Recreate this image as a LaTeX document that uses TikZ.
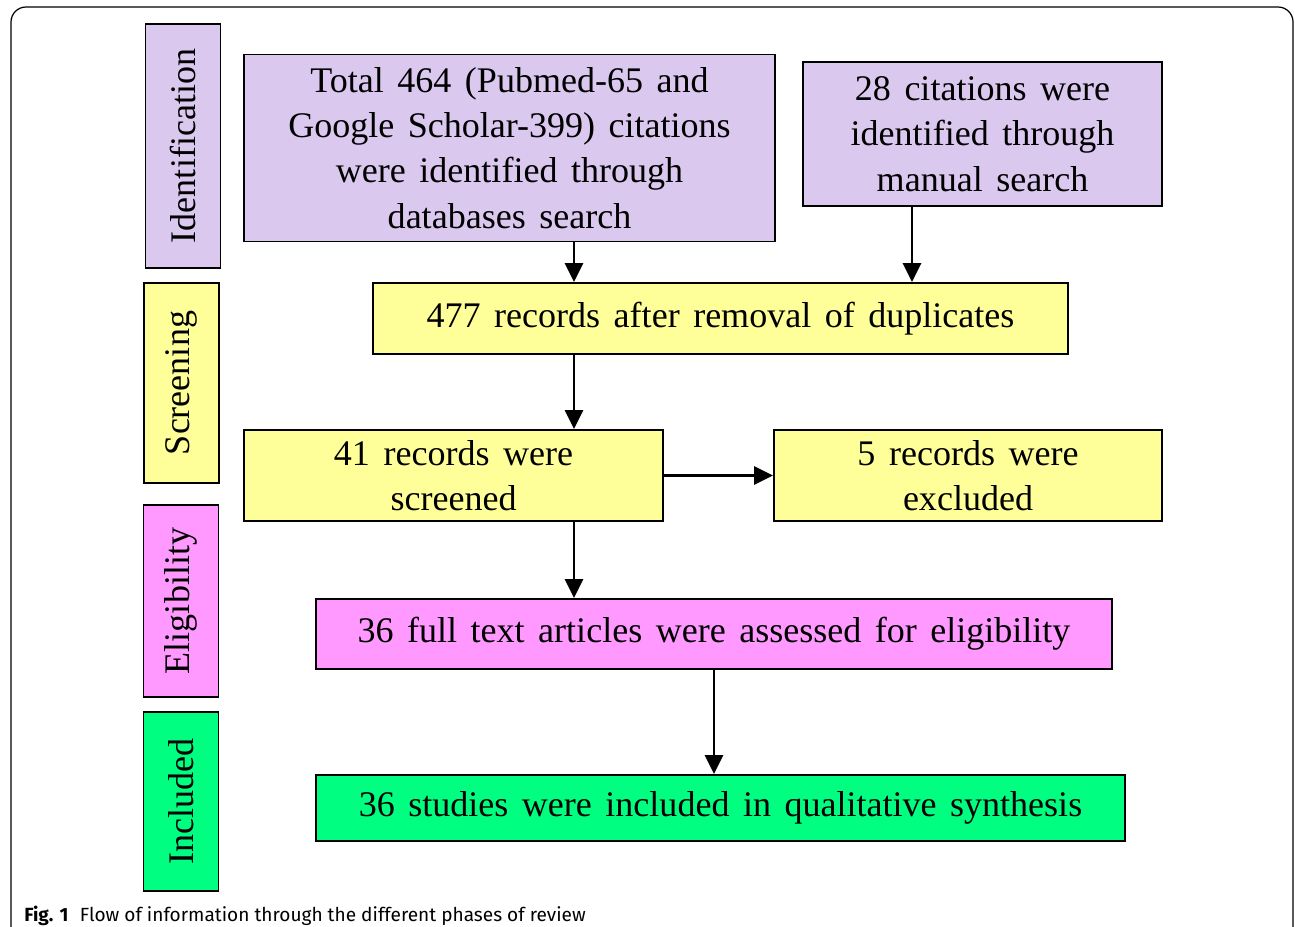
\documentclass[tikz,border=0pt]{standalone}
\usepackage{fontspec}
\setmainfont{Liberation Serif}
\newfontfamily\boxfont[WordSpace=1.5]{Liberation Serif}
\newfontfamily\capfont{Fira Sans}
\usetikzlibrary{arrows.meta}
\definecolor{lav}{HTML}{DAC8EE}
\definecolor{yel}{HTML}{FFFF99}
\definecolor{pnk}{HTML}{FF99FF}
\definecolor{grn}{HTML}{00FF80}
\tikzset{
  box/.style={draw=black, line width=1.1pt, align=center, inner sep=2pt,
    font=\boxfont\fontsize{20.5}{25.8}\selectfont},
  phase/.style={box, rotate=90, minimum height=1.5cm},
  arr/.style={line width=1.6pt, -{Triangle[length=0.38cm,width=0.36cm]}},
}
\begin{document}
\begin{tikzpicture}
\useasboundingbox (0,0) rectangle (25.9,-18.54);
\clip (0,0) rectangle (25.9,-18.54);
\draw[line width=0.7pt, rounded corners=0.3cm] (0.22,-19.5) -- (0.22,-0.14) -- (25.86,-0.14) -- (25.86,-19.5);
% phase labels
\node[phase, fill=lav, minimum width=4.88cm] (L1) at (3.66,-2.92) {Identification};
\node[phase, fill=yel, minimum width=4.0cm] (L2) at (3.63,-7.66) {Screening};
\node[phase, fill=pnk, minimum width=3.84cm] (L3) at (3.62,-12.02) {Eligibility};
\node[phase, fill=grn, minimum width=3.58cm] (L4) at (3.62,-16.03) {Included};
% boxes
\node[box, fill=lav, minimum width=10.62cm, minimum height=3.74cm] (A) at (10.19,-2.96)
  {Total 464 (Pubmed-65 and\\Google Scholar-399) citations\\were identified through\\databases search};
\node[box, fill=lav, minimum width=7.18cm, minimum height=2.88cm] (B) at (19.65,-2.68)
  {28 citations were\\identified through\\manual search};
\node[box, fill=yel, minimum width=13.9cm, minimum height=1.42cm] (C) at (14.41,-6.37)
  {\raisebox{-0.08cm}{477 records after removal of duplicates}};
\node[box, fill=yel, minimum width=8.38cm, minimum height=1.82cm] (D) at (9.07,-9.51)
  {41 records were\\screened};
\node[box, fill=yel, minimum width=7.76cm, minimum height=1.82cm] (E) at (19.36,-9.51)
  {5 records were\\excluded};
\node[box, fill=pnk, minimum width=15.92cm, minimum height=1.4cm] (F) at (14.28,-12.68)
  {\raisebox{-0.08cm}{36 full text articles were assessed for eligibility}};
\node[box, fill=grn, minimum width=16.18cm, minimum height=1.32cm] (G) at (14.41,-16.16)
  {\raisebox{-0.08cm}{36 studies were included in qualitative synthesis}};
% arrows
\coordinate (x1) at (11.48,0);
\coordinate (x2) at (18.24,0);
\draw[arr] (A.south -| x1) -- (C.north -| x1);
\draw[arr] (B.south -| x2) -- (C.north -| x2);
\draw[arr] (C.south -| x1) -- (D.north -| x1);
\draw[arr] (D.east) -- (E.west);
\draw[arr] (D.south -| x1) -- (F.north -| x1);
\draw[arr] (F.south) -- (G.north -| F.south);
% caption
\node[anchor=base west, inner sep=0pt, font=\capfont\fontsize{10.85}{13}\selectfont] (cap) at (0.48,-18.42)
  {\textbf{Fig. 1}\hspace{0.6em}Flow of information through the different phases of review};
\end{tikzpicture}
\end{document}
